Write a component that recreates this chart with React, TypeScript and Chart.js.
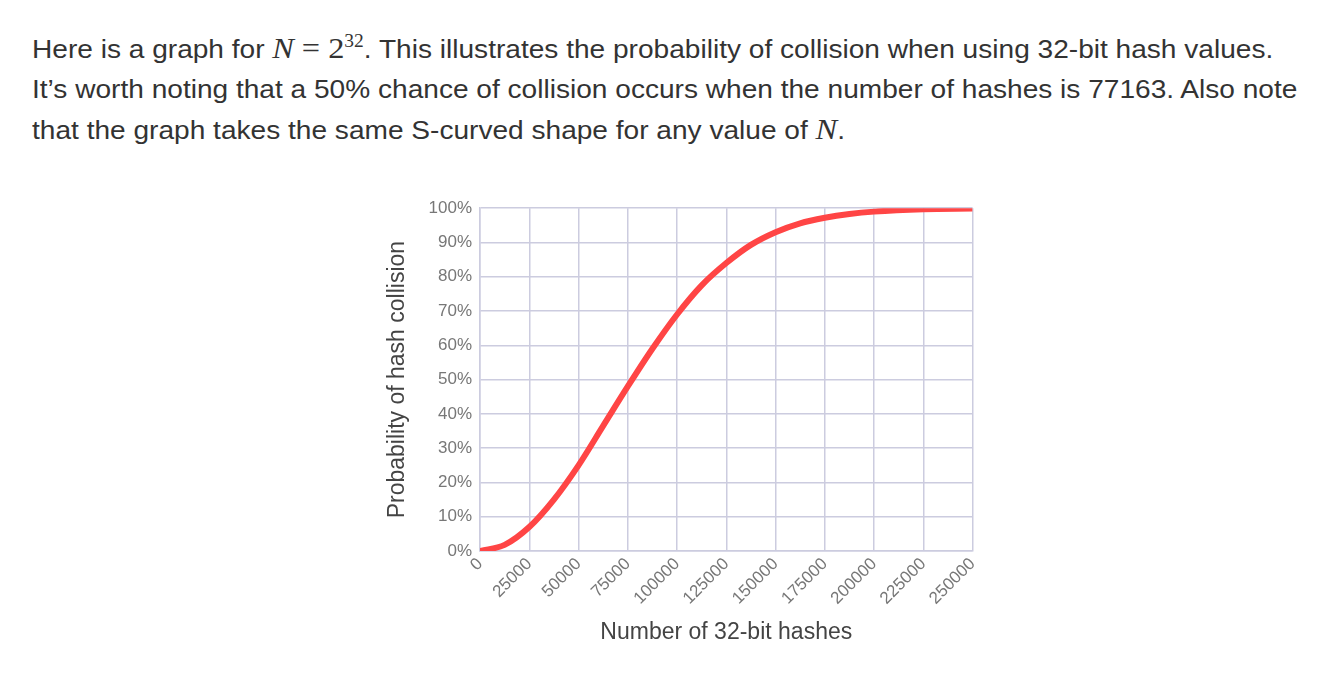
import { useEffect, useRef } from 'react'
import { Chart, registerables } from 'chart.js'

Chart.register(...registerables)

// hashes vs probability of collision
const hashes = [0, 12500, 25000, 37500, 50000, 62500, 75000, 87500, 100000, 112500, 125000, 137500, 150000, 162500, 175000, 187500, 200000, 225000, 250000]
const probability = [0, 1.8, 7, 15, 25, 36.5, 48, 59, 69, 77.5, 84, 89.3, 93, 95.6, 97.2, 98.3, 99, 99.7, 99.9]
const xTicks = [0, 25000, 50000, 75000, 100000, 125000, 150000, 175000, 200000, 225000, 250000]

const math = { fontFamily: '"Liberation Serif", serif', fontStyle: 'italic', fontSize: 30 }

export default function App() {
  const canvasRef = useRef<HTMLCanvasElement>(null)

  useEffect(() => {
    if (!canvasRef.current) return
    const tick = '#777'
    const grid = '#ccccdf'
    const tickFont = { family: '"Liberation Sans", Arial', size: 17 }
    const titleFont = { family: '"Liberation Sans", Arial', size: 23 }
    const chart = new Chart(canvasRef.current, {
      type: 'line',
      data: {
        datasets: [
          {
            data: hashes.map((h, i) => ({ x: h, y: probability[i] })),
            borderColor: '#ff4545',
            borderWidth: 6,
            pointRadius: 0,
            cubicInterpolationMode: 'monotone',
          },
        ],
      },
      options: {
        responsive: true,
        maintainAspectRatio: false,
        animation: false,
        layout: { padding: { top: 6, right: 9, bottom: 0, left: 0 } },
        plugins: { legend: { display: false }, tooltip: { enabled: false } },
        scales: {
          x: {
            type: 'linear',
            min: 0,
            max: 250000,
            afterBuildTicks: (s) => {
              s.ticks = xTicks.map((v) => ({ value: v }))
            },
            afterFit: (s) => {
              s.height = 99
            },
            ticks: {
              color: tick,
              font: tickFont,
              minRotation: 45,
              maxRotation: 45,
              callback: (v) => `${v}`,
            },
            grid: { color: grid, lineWidth: 1.5, drawTicks: false },
            border: { color: grid, width: 1.5 },
            title: { display: true, text: 'Number of 32-bit hashes', color: '#444', font: titleFont },
          },
          y: {
            min: 0,
            max: 100,
            afterFit: (s) => {
              s.width = 100
            },
            ticks: {
              stepSize: 10,
              color: tick,
              padding: 8,
              font: tickFont,
              callback: (v) => `${v}%`,
            },
            grid: { color: grid, lineWidth: 1.5, drawTicks: false },
            border: { color: grid, width: 1.5 },
            title: { display: true, text: 'Probability of hash collision', color: '#444', font: titleFont },
          },
        },
      },
    })
    return () => chart.destroy()
  }, [])

  return (
    <div style={{ position: 'relative', width: 1339, height: 685, margin: -8, background: '#fff', overflow: 'hidden' }}>
      <div
        style={{
          position: 'absolute',
          left: 32,
          top: 21,
          width: 1290,
          fontFamily: '"Liberation Sans", Arial, sans-serif',
          fontSize: 26,
          lineHeight: '40px',
          color: '#333',
          whiteSpace: 'nowrap',
          transform: 'scaleX(1.08)',
          transformOrigin: 'left top',
        }}
      >
        Here is a graph for <span style={math}>N</span>{' '}
        <span style={{ ...math, fontStyle: 'normal' }}>
          = 2<sup style={{ fontSize: 18 }}>32</sup>
        </span>
        . This illustrates the probability of collision when using 32-bit hash values.
        <br />
        It’s worth noting that a 50% chance of collision occurs when the number of hashes is 77163. Also note
        <br />
        that the graph takes the same S-curved shape for any value of <span style={math}>N</span>.
      </div>
      <div style={{ position: 'absolute', left: 380, top: 190, width: 610, height: 460 }}>
        <canvas ref={canvasRef} role="img" aria-label="Probability of hash collision chart" />
      </div>
    </div>
  )
}
